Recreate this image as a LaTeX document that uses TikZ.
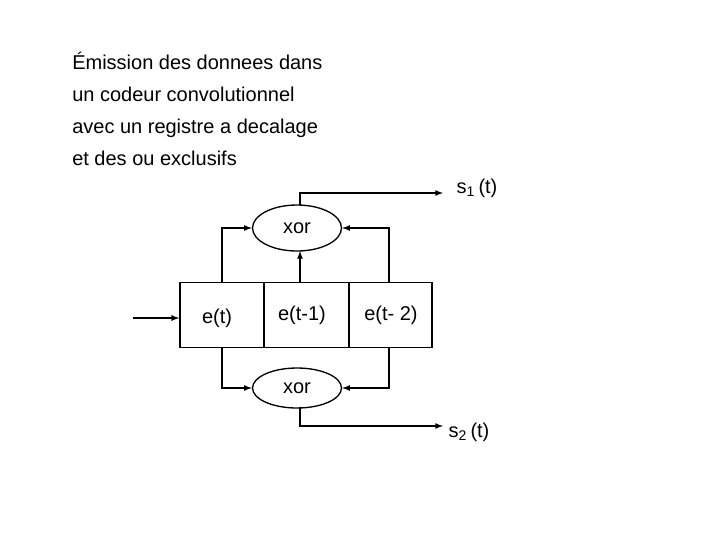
\documentclass[tikz,border=0pt]{standalone}
\usepackage{fontspec}
\setmainfont{Liberation Sans}
\usetikzlibrary{shapes.geometric}
\begin{document}
\begin{tikzpicture}[x=0.75pt,y=-0.75pt,
  every node/.style={font=\fontsize{15}{24}\selectfont},
  cell/.style={draw,line width=1.2pt,minimum height=48.75pt,inner sep=0pt},
  xorn/.style={draw,line width=1pt,ellipse,inner sep=0pt},
  conn/.style={line width=1pt,-latex}]
\useasboundingbox (0,0) rectangle (720,540);
\node[anchor=north west,align=left,inner sep=0pt] (title) at (72,52) {Émission des donnees dans\\un codeur convolutionnel\\avec un registre a decalage\\et des ou exclusifs};
\node[cell,minimum width=63pt] (c1) at (222,315) {};
\node[cell,minimum width=63.75pt] (c2) at (306.5,315) {};
\node[cell,minimum width=62.25pt] (c3) at (390.5,315) {};
\node (l1) at (217,318) {e(t)};
\node (l2) at (302,315) {e(t-1)};
\node (l3) at (391,315) {e(t- 2)};
\node[xorn,minimum width=66.75pt,minimum height=34.5pt] (x1) at (297,228) {xor};
\node[xorn,minimum width=66.75pt,minimum height=30pt] (x2) at (297,388) {xor};
\coordinate (in) at (133,318);
\coordinate (o1) at (443,193);
\coordinate (o2) at (443,426);
\node[anchor=west] (s1) at (452,188) {s\textsubscript{1}\,(t)};
\node[anchor=west] (s2) at (444,432) {s\textsubscript{2}\,(t)};
\draw[conn] (in) -- (c1.west|-in);
\draw[conn] (222,282) |- (x1.west);
\draw[conn] (389,282) |- (x1.east);
\draw[conn] (300,282) -- (300,251);
\draw[conn] (222,347) |- (x2.west);
\draw[conn] (389,347) |- (x2.east);
\draw[conn] (300,205) |- (o1);
\draw[conn] (300,407) |- (o2);
\end{tikzpicture}
\end{document}
